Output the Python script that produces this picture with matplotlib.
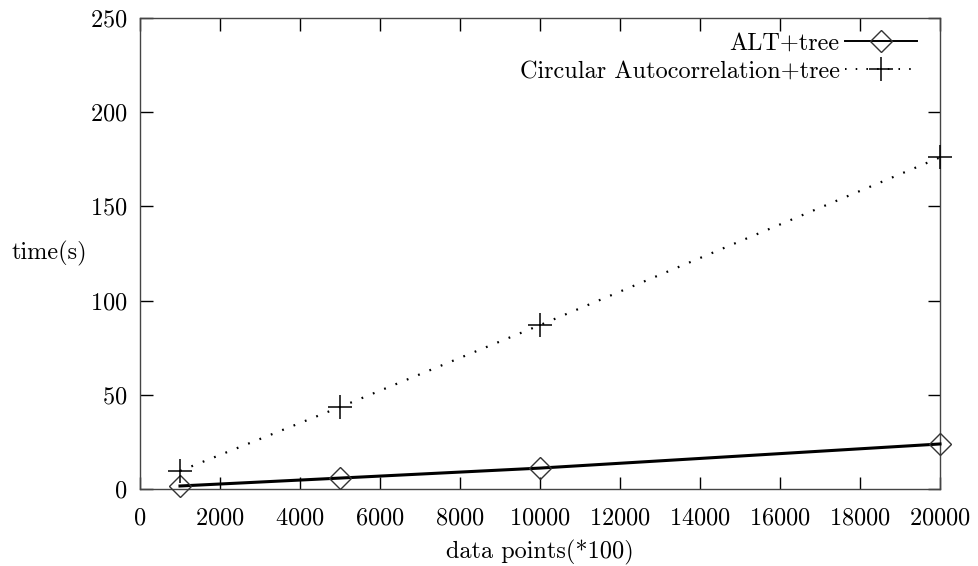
import matplotlib
matplotlib.use("Agg")
import matplotlib.pyplot as plt

# Runtime measurements
data_points = [1000, 5000, 10000, 20000]
alt_tree = [1.6, 5.8, 11.1, 23.9]
circ_tree = [9.6, 43.5, 87.0, 176.0]

x_ticks = list(range(0, 20001, 2000))
y_ticks = list(range(0, 251, 50))

plt.rcParams["font.family"] = ["cmr10", "DejaVu Serif"]
plt.rcParams["axes.formatter.use_mathtext"] = True
plt.rcParams["mathtext.fontset"] = "cm"

FS = 17.5

fig = plt.figure(figsize=(9.79, 5.66), dpi=100)
ax = fig.add_axes([140 / 979, 1 - 489 / 566, 800 / 979, 471 / 566])

ax.plot(data_points, alt_tree, color="black", lw=2.2, marker="D",
        markersize=11, markerfacecolor="none", markeredgecolor="#333333",
        markeredgewidth=1.0, label="ALT+tree", clip_on=False, zorder=3)
ax.plot(data_points, circ_tree, color="black", lw=1.6, linestyle=(0, (0.8, 4.7)),
        marker="+", markersize=17, markeredgewidth=1.1,
        label="Circular Autocorrelation+tree", clip_on=False, zorder=3)

ax.set_xlim(0, 20000)
ax.set_ylim(0, 250)
ax.set_xticks(x_ticks)
ax.set_yticks(y_ticks)
ax.tick_params(direction="in", length=9, width=1.0, top=True, right=True,
               labelsize=FS)
ax.tick_params(axis="x", pad=13)
ax.tick_params(axis="y", pad=9)
for s in ax.spines.values():
    s.set_linewidth(1.0)
    s.set_color("#444444")

ax.set_xlabel("data points(*100)", fontsize=FS, labelpad=8)
ax.set_ylabel("time(s)", fontsize=FS, rotation=0, ha="left", va="center")
ax.yaxis.set_label_coords(-128 / 800, 0.50)

leg = ax.legend(loc="upper right", bbox_to_anchor=(0.984, 0.99),
                markerfirst=False, frameon=False, fontsize=FS,
                handlelength=3.0, handletextpad=0.2, borderaxespad=0.0,
                labelspacing=0.25)
for h in leg.get_lines():
    h.set_linewidth(1.4)

fig.savefig("out.png", dpi=100)
